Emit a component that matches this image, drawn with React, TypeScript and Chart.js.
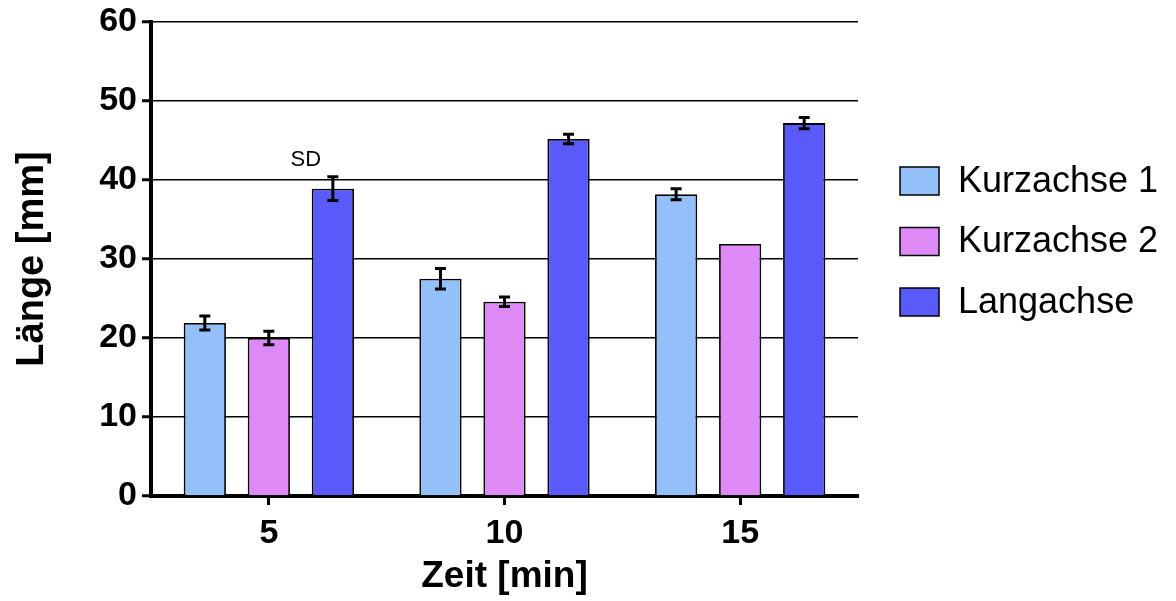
import React, { useEffect, useRef } from "react";
import { Chart, registerables } from "chart.js";

Chart.register(...registerables);

const categories = ["5", "10", "15"];
const seriesNames = ["Kurzachse 1", "Kurzachse 2", "Langachse"];
const kurz1 = [21.9, 27.5, 38.2];
const kurz1Err = [0.9, 1.3, 0.7];
const kurz2 = [20.0, 24.6, 31.9];
const kurz2Err = [0.85, 0.6, 0];
const lang = [38.9, 45.2, 47.2];
const langErr = [1.5, 0.6, 0.7];
const yTicks = [0, 10, 20, 30, 40, 50, 60];
const colors = ["#93c0f8", "#dd8af6", "#5a5afa"];

const FONT = "'Liberation Sans', Arial, Helvetica, sans-serif";

const errorBarPlugin = {
  id: "errorBars",
  afterDatasetsDraw(chart: any) {
    const ctx = chart.ctx;
    const yScale = chart.scales.y;
    const errs = [kurz1Err, kurz2Err, langErr];
    ctx.save();
    ctx.strokeStyle = "#000";
    ctx.lineWidth = 3;
    chart.data.datasets.forEach((ds: any, i: number) => {
      const meta = chart.getDatasetMeta(i);
      meta.data.forEach((el: any, j: number) => {
        const v = ds.data[j];
        const e = errs[i][j];
        if (!e) return;
        const yT = yScale.getPixelForValue(v + e);
        const yB = yScale.getPixelForValue(v - e);
        const x = el.x;
        ctx.beginPath();
        ctx.moveTo(x, yT);
        ctx.lineTo(x, yB);
        ctx.moveTo(x - 5.5, yT);
        ctx.lineTo(x + 5.5, yT);
        ctx.moveTo(x - 5.5, yB);
        ctx.lineTo(x + 5.5, yB);
        ctx.stroke();
      });
    });
    ctx.restore();
  },
};

const legendPlugin = {
  id: "customLegend",
  afterDraw(chart: any) {
    const ctx = chart.ctx;
    ctx.save();
    const x0 = 900;
    const startY = 181;
    const step = 60.5;
    chart.data.datasets.forEach((ds: any, i: number) => {
      const cy = startY + i * step;
      ctx.fillStyle = ds.backgroundColor;
      ctx.fillRect(x0, cy - 14, 39, 28);
      ctx.strokeStyle = "#000";
      ctx.lineWidth = 1.5;
      ctx.strokeRect(x0, cy - 14, 39, 28);
      ctx.fillStyle = "#000";
      ctx.font = `36px ${FONT}`;
      ctx.textBaseline = "middle";
      ctx.textAlign = "left";
      ctx.fillText(ds.label, 958, cy + 1);
    });
    ctx.restore();
  },
};

const sdPlugin = {
  id: "sdLabel",
  afterDraw(chart: any) {
    const ctx = chart.ctx;
    const meta = chart.getDatasetMeta(2);
    const el = meta.data[0];
    if (!el) return;
    ctx.save();
    ctx.fillStyle = "#000";
    ctx.font = `22px ${FONT}`;
    ctx.textAlign = "center";
    ctx.textBaseline = "middle";
    ctx.fillText("SD", el.x - 27, chart.scales.y.getPixelForValue(42.5));
    ctx.restore();
  },
};

export default function App() {
  const ref = useRef<HTMLCanvasElement>(null);
  useEffect(() => {
    if (!ref.current) return;
    Chart.defaults.color = "#000";
    const chart = new Chart(ref.current, {
      type: "bar",
      data: {
        labels: categories,
        datasets: [
          { label: seriesNames[0], data: kurz1, backgroundColor: colors[0] },
          { label: seriesNames[1], data: kurz2, backgroundColor: colors[1] },
          { label: seriesNames[2], data: lang, backgroundColor: colors[2] },
        ].map((d) => ({
          ...d,
          borderColor: "#000",
          borderWidth: 1.8,
          categoryPercentage: 0.815,
          barPercentage: 0.66,
        })),
      },
      options: {
        animation: false,
        responsive: false,
        layout: { padding: { left: 0, top: 22, right: 318, bottom: 0 } },
        plugins: { legend: { display: false }, tooltip: { enabled: false } },
        scales: {
          x: {
            afterFit: (s: any) => {
              s.height = 105;
            },
            grid: {
              display: true,
              drawOnChartArea: false,
              offset: false,
              tickLength: 9,
              tickWidth: 3,
              tickColor: "#000",
            },
            border: { display: true, color: "#000", width: 4 },
            ticks: {
              color: "#000",
              padding: 8,
              font: { family: FONT, size: 34, weight: "bold" },
            },
            title: {
              display: true,
              text: "Zeit [min]",
              color: "#000",
              font: { family: FONT, size: 37, weight: "bold", lineHeight: 1.2 },
              padding: { top: 0, bottom: 2 },
            },
          },
          y: {
            min: 0,
            max: 60,
            afterFit: (s: any) => {
              s.width = 151;
              s.paddingTop = 0;
              s.paddingBottom = 0;
            },
            afterBuildTicks: (s: any) => {
              s.ticks = yTicks.map((v) => ({ value: v }));
            },
            grid: {
              color: "#000",
              lineWidth: 1.5,
              tickLength: 9,
              tickWidth: 3,
              tickColor: "#000",
            },
            border: { display: true, color: "#000", width: 4 },
            ticks: {
              color: "#000",
              padding: 5,
              font: { family: FONT, size: 34, weight: "bold" },
            },
            title: {
              display: true,
              text: "Länge [mm]",
              color: "#000",
              font: { family: FONT, size: 38, weight: "bold", lineHeight: 1.2 },
              padding: { top: 10, bottom: 0 },
            },
          },
        },
      },
      plugins: [errorBarPlugin, legendPlugin, sdPlugin],
    } as any);
    return () => chart.destroy();
  }, []);
  return (
    <div style={{ position: "fixed", left: 0, top: 0, width: 1176, height: 601 }}>
      <canvas ref={ref} width={1176} height={601} />
    </div>
  );
}
